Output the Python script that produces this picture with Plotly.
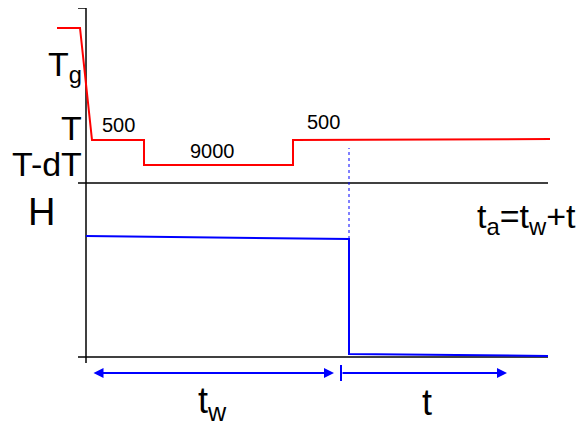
"""
Schematic of a temperature-cycling protocol (T above, H below)
drawn with plotly on a single schematic axis.
"""

import plotly.graph_objects as go

# Schematic time axis (t = 0 at the vertical axis, t_w at the jump)
T_W = 263
T_END = 462

# Temperature protocol (upper panel), schematic levels
red_time = [-29, -6, 6, 58, 58, 207, 207, 464]
red_level = [329, 329, 217, 217, 192, 192, 217, 218]

# H response (lower panel)
blue_time = [0, T_W, T_W, T_W, T_END]
blue_h = [121, 118, 118, 3, 1]

# step durations written over the red curve
step_labels = ["500", "9000", "500"]
step_x = [32, 126, 237]
step_y = [232, 206, 235]

# level labels on the left
level_labels = ["T<sub>g</sub>", "T", "T-dT"]
level_y = [291, 229, 193]

# frame lines
mid_level = 174
top_level = 349
arrow_y = -16

FONT = "Liberation Sans, Arial, sans-serif"

fig = go.Figure()

# axes of the sketch
fig.add_trace(go.Scatter(x=[0, 0], y=[-6, top_level], mode="lines",
                         line=dict(color="black", width=1.5)))
fig.add_trace(go.Scatter(x=[-8, 0], y=[top_level, top_level], mode="lines",
                         line=dict(color="black", width=1.5)))
fig.add_trace(go.Scatter(x=[-8, T_END], y=[mid_level, mid_level], mode="lines",
                         line=dict(color="black", width=1.5)))
fig.add_trace(go.Scatter(x=[-8, T_END], y=[0, 0], mode="lines",
                         line=dict(color="black", width=1.5)))

# protocol and response
fig.add_trace(go.Scatter(x=red_time, y=red_level, mode="lines",
                         line=dict(color="#ff0000", width=2)))
fig.add_trace(go.Scatter(x=blue_time, y=blue_h, mode="lines",
                         line=dict(color="#0000ff", width=2)))
fig.add_trace(go.Scatter(x=[T_W, T_W], y=[blue_h[1], 209], mode="lines",
                         line=dict(color="#0000ff", width=1, dash="dot")))

# tick marking t_w on the time arrows
fig.add_trace(go.Scatter(x=[T_W - 8, T_W - 8], y=[arrow_y + 8, arrow_y - 8],
                         mode="lines", line=dict(color="#0000ff", width=2)))

# arrows for t_w and t
fig.add_annotation(x=248, y=arrow_y, ax=6, ay=arrow_y, xref="x", yref="y",
                   axref="x", ayref="y", text="", showarrow=True,
                   arrowhead=2, startarrowhead=2, arrowside="end+start",
                   arrowsize=1, arrowwidth=2, arrowcolor="#0000ff")
fig.add_annotation(x=421, y=arrow_y, ax=T_W - 8, ay=arrow_y, xref="x", yref="y",
                   axref="x", ayref="y", text="", showarrow=True,
                   arrowhead=2, arrowsize=1, arrowwidth=2, arrowcolor="#0000ff")

# text
for txt, yy in zip(level_labels, level_y):
    fig.add_annotation(x=-3, y=yy, text=txt, showarrow=False, xanchor="right",
                       yanchor="middle", borderpad=0,
                       font=dict(size=34, color="black", family=FONT))
for txt, xx, yy in zip(step_labels, step_x, step_y):
    fig.add_annotation(x=xx, y=yy, text=txt, showarrow=False,
                       font=dict(size=20, color="black", family=FONT))

fig.add_annotation(x=-45, y=145, text="H", showarrow=False,
                   font=dict(size=38, color="black", family=FONT))
fig.add_annotation(x=390, y=139, text="t<sub>a</sub>=t<sub>w</sub>+t", showarrow=False,
                   xanchor="left", borderpad=0,
                   font=dict(size=34, color="black", family=FONT))
fig.add_annotation(x=126, y=-46, text="t<sub>w</sub>", showarrow=False,
                   font=dict(size=36, color="black", family=FONT))
fig.add_annotation(x=341, y=-45, text="t", showarrow=False,
                   font=dict(size=36, color="black", family=FONT))

# the page body adds an 8px offset, so the ranges are shifted to compensate
fig.update_xaxes(range=[-78, 510], visible=False)
fig.update_yaxes(range=[-82, 349], visible=False)
fig.update_layout(
    width=588, height=431,
    margin=dict(l=0, r=0, t=0, b=0),
    paper_bgcolor="white", plot_bgcolor="white",
    showlegend=False,
)

fig.write_html("out.html")
